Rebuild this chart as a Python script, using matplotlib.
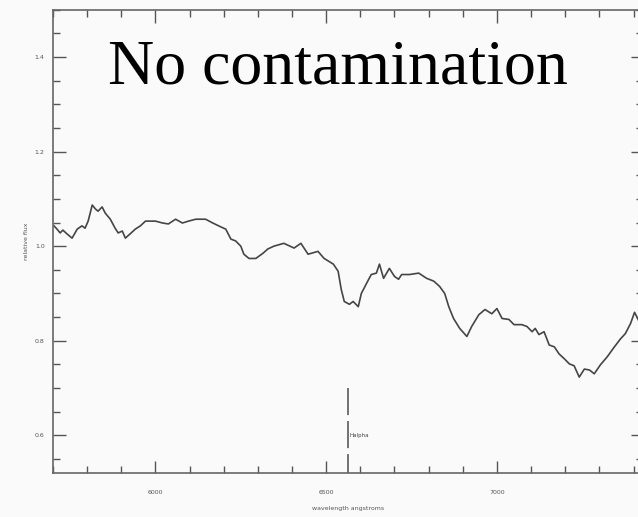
import matplotlib.pyplot as plt
from matplotlib.ticker import MultipleLocator

# spectrum, wavelength in angstroms and relative flux
wavelength = [5703, 5712, 5721, 5729, 5741, 5756, 5771, 5785, 5794, 5803,
              5815, 5824, 5832, 5844, 5853, 5868, 5882, 5891, 5903, 5912,
              5926, 5941, 5956, 5971, 5985, 6000, 6021, 6038, 6059, 6079,
              6097, 6118, 6147, 6168, 6185, 6206, 6221, 6235, 6250, 6259,
              6274, 6294, 6315, 6329, 6347, 6376, 6406, 6426, 6447, 6476,
              6494, 6521, 6535, 6544, 6553, 6568, 6579, 6594, 6603, 6618,
              6632, 6647, 6656, 6668, 6685, 6700, 6712, 6721, 6744, 6771,
              6794, 6815, 6832, 6847, 6859, 6873, 6891, 6912, 6926, 6947,
              6965, 6985, 7000, 7015, 7035, 7050, 7073, 7088, 7103, 7112,
              7123, 7138, 7153, 7168, 7182, 7197, 7212, 7226, 7241, 7256,
              7271, 7285, 7303, 7323, 7344, 7362, 7376, 7391, 7403, 7412,
              7421]
flux = [1.043, 1.036, 1.028, 1.034, 1.026, 1.017, 1.036, 1.043, 1.038, 1.053,
        1.087, 1.079, 1.074, 1.083, 1.070, 1.057, 1.038, 1.028, 1.032, 1.017,
        1.026, 1.036, 1.043, 1.053, 1.053, 1.053, 1.049, 1.047, 1.057, 1.049,
        1.053, 1.057, 1.057, 1.049, 1.043, 1.036, 1.015, 1.011, 1.000, 0.983,
        0.974, 0.974, 0.985, 0.994, 1.000, 1.006, 0.996, 1.006, 0.983, 0.989,
        0.974, 0.962, 0.947, 0.909, 0.883, 0.877, 0.883, 0.872, 0.900, 0.921,
        0.940, 0.943, 0.962, 0.932, 0.953, 0.936, 0.930, 0.940, 0.940, 0.943,
        0.932, 0.926, 0.915, 0.900, 0.872, 0.847, 0.826, 0.809, 0.830, 0.855,
        0.866, 0.857, 0.868, 0.847, 0.845, 0.834, 0.834, 0.830, 0.819, 0.826,
        0.813, 0.819, 0.791, 0.787, 0.772, 0.762, 0.751, 0.747, 0.723, 0.740,
        0.738, 0.730, 0.749, 0.766, 0.787, 0.804, 0.815, 0.836, 0.860, 0.847,
        0.834]

halpha = 6563
x_ticks = [6000, 6500, 7000]
y_ticks = [0.6, 0.8, 1.0, 1.2, 1.4]

fig = plt.figure(figsize=(6.38, 5.17), dpi=100)
fig.patch.set_facecolor('#fafafa')
# right edge of the frame runs just past the figure border
ax = fig.add_axes([0.083, 0.085, 0.925, 0.896])
ax.set_facecolor('#fafafa')

ax.plot(wavelength, flux, color='#454545', lw=1.2)

# dashed marker for H-alpha with its label, drawn top-down
ax.plot([halpha, halpha], [0.70, 0.52], color='#666666', lw=1.3,
        linestyle=(0, (15, 3.3)))
ax.text(halpha + 4, 0.60, 'Halpha', fontsize=4, color='#444444',
        va='center', ha='left')

ax.set_xlim(5700, 7428)
ax.set_ylim(0.52, 1.50)
ax.set_xticks(x_ticks)
ax.set_yticks(y_ticks)
ax.set_yticklabels([f'{v:.1f}' for v in y_ticks])
ax.xaxis.set_minor_locator(MultipleLocator(100))
ax.yaxis.set_minor_locator(MultipleLocator(0.05))
ax.tick_params(which='both', direction='in', top=True, right=True,
               colors='#555555', labelsize=4.5, labelcolor='#555555')
ax.tick_params(which='major', length=9, width=1)
ax.tick_params(which='minor', length=5, width=1)
ax.tick_params(axis='x', pad=12)
ax.tick_params(axis='y', pad=6)
for s in ax.spines.values():
    s.set_color('#666666')
    s.set_linewidth(1.2)

ax.set_xlabel('wavelength angstroms', fontsize=4.5, color='#555555', labelpad=8)
ax.set_ylabel('relative flux', fontsize=4.5, color='#555555', labelpad=4)

fig.text(0.169, 0.839, 'No contamination', fontsize=46,
         family='Liberation Serif', color='black', ha='left', va='baseline')

fig.savefig('out.png', dpi=100, facecolor=fig.get_facecolor())
